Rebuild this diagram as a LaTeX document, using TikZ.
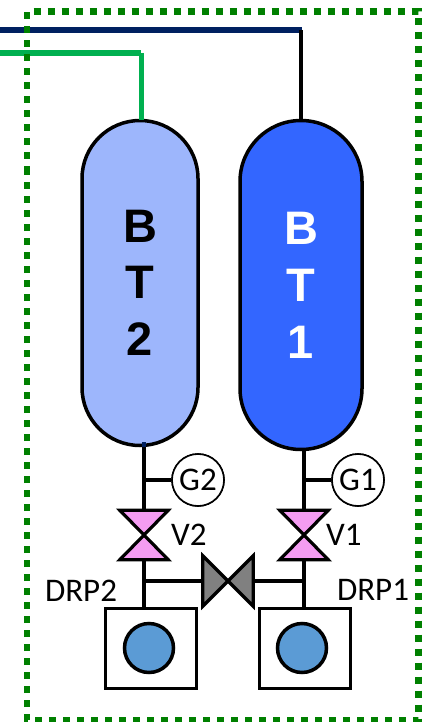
\documentclass[tikz,border=0pt]{standalone}
\usepackage{fontspec}
\setmainfont{Carlito}
\newfontfamily\boldf[BoldFont={Liberation Sans Bold}]{Liberation Sans}
\definecolor{navyl}{HTML}{002060}
\definecolor{greenl}{HTML}{00B050}
\definecolor{dotg}{HTML}{008000}
\definecolor{lt}{HTML}{9DB6FC}
\definecolor{dk}{HTML}{3366FF}
\definecolor{pinkv}{HTML}{F49CF2}
\definecolor{bluec}{HTML}{5B9BD5}
\tikzset{
  tank/.style={draw=black,line width=3.5pt,minimum width=#1,align=center,rounded corners=0.5*#1,inner sep=0pt,font=\boldf\bfseries\fontsize{47}{57}\selectfont},
  pipe/.style={draw=black,line width=3.8pt},
  gauge/.style={circle,draw=black,line width=1.6pt,fill=white,minimum size=52pt,inner sep=0pt,font=\fontsize{33}{33}\selectfont},
  vnode/.style={minimum width=48pt,minimum height=49pt,inner sep=0pt},
  lab/.style={inner sep=0pt,font=\fontsize{33}{33}\selectfont},
  drp/.style={rectangle,draw=black,line width=3pt,fill=white,minimum width=91pt,minimum height=80pt,inner sep=0pt},
  disc/.style={circle,draw=black,line width=3.5pt,fill=bluec,minimum size=49pt,inner sep=0pt},
  vertv/.style={draw=black,line width=3.2pt,fill=pinkv,line join=miter},
  horv/.style={draw=black,line width=3.2pt,fill=gray,line join=miter}
}
\begin{document}
\begin{tikzpicture}[x=1pt,y=-1pt]
\useasboundingbox (0,0) rectangle (426,722);
% tanks
\node[tank=116pt,minimum height=325pt,fill=lt,text=black] (bt2) at (140,283) {\raisebox{-1.5pt}{B}\\T\\2};
\node[tank=122pt,minimum height=329pt,fill=dk,text=white] (bt1) at (301,285) {B\\T\\1};
% nodes
\node[vnode] (v2) at (144,535) {};
\node[vnode] (v1) at (304,535) {};
\node[gauge] (g2) at (198,480) {G2};
\node[gauge] (g1) at (358,480) {G1};
\node[drp] (d2) at (151,648) {};
\node[drp] (d1) at (304.5,648) {};
\node[minimum width=50pt,minimum height=50pt,inner sep=0pt] (vh) at (228,581) {};
\coordinate (n2) at (0,53);
\coordinate (n1) at (0,30);
\coordinate (c2) at (141,53);
\coordinate (c1) at (300.5,30);
\coordinate (t2) at (141,120);
\coordinate (t1) at (300.5,120);
\coordinate (s2) at (144,447);
\coordinate (s1) at (304,450);
\coordinate (e2) at (144,608);
\coordinate (e1) at (304,608);
\coordinate (b2) at (144,480);
\coordinate (b1) at (304,480);
\coordinate (h2) at (144,581);
\coordinate (h1) at (304,581);
% top lines
\draw[line width=5.5pt,navyl] (n1) -- (c1) -- ++(1,0);
\draw[black,line width=4pt] (c1) -- (t1);
\draw[greenl,line width=5.5pt] (n2) -- (c2);
\draw[greenl,line width=5pt] (c2) -- (t2);
% pipes
\draw[pipe] (s2) -- (v2.north);
\draw[pipe] (v2.south) -- (e2);
\draw[pipe] (s1) -- (v1.north);
\draw[pipe] (v1.south) -- (e1);
\draw[pipe] (b2) -- (g2);
\draw[pipe] (b1) -- (g1);
\draw[pipe] (h2) -- (vh.west);
\draw[pipe] (vh.east) -- (h1);
\draw[navyl,line width=3.8pt] (144,442) -- (s2);
% gauges redrawn on top of pipes
\node[gauge] at (g2) {G2};
\node[gauge] at (g1) {G1};
% valves
\draw[vertv] (v2.north west) -- (v2.north east) -- (v2.south west) -- (v2.south east) -- cycle;
\draw[vertv] (v1.north west) -- (v1.north east) -- (v1.south west) -- (v1.south east) -- cycle;
\draw[horv] (vh.north west) -- (vh.south east) -- (vh.north east) -- (vh.south west) -- cycle;
% pumps
\node[drp] at (d2) {};
\node[drp] at (d1) {};
\node[disc] (c2d) at (149,648) {};
\node[disc] (c1d) at (302,648) {};
% labels
\node[lab,anchor=west] (lv2) at (171,535) {V2};
\node[lab,anchor=west] (lv1) at (326,535) {V1};
\node[lab] (ld2) at (81,591) {DRP2};
\node[lab] (ld1) at (373,590) {DRP1};
% border
\draw[dotg,line width=6.5pt,dash pattern=on 7pt off 7pt,dash phase=3pt] (27,170) -- (27,11.5) -- (418.5,11.5) -- (418.5,720) -- (27,720) -- (27,170);
\end{tikzpicture}
\end{document}
